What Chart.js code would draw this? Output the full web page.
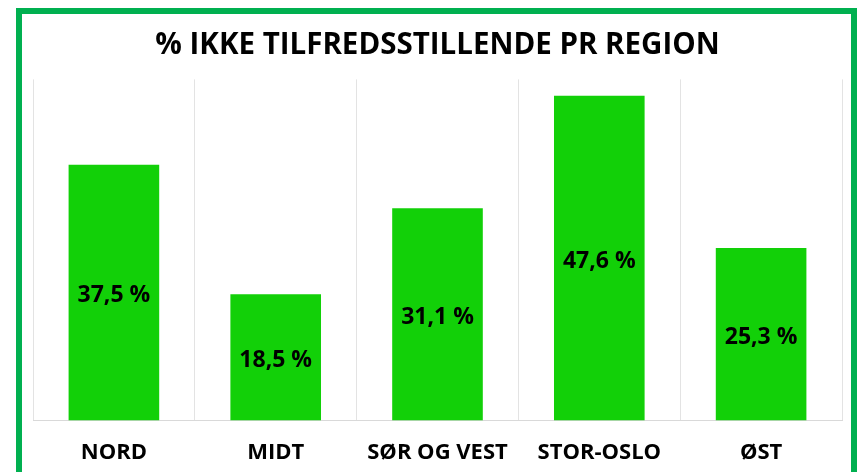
<!DOCTYPE html>
<html>
<head>
<meta charset="utf-8">
<script src="https://cdn.jsdelivr.net/npm/chart.js@4/dist/chart.umd.min.js"></script>
<style>
  html, body { margin: 0; padding: 0; background: #fff; overflow: hidden; }
  #frame {
    position: absolute; left: 16px; top: 8px;
    width: 829px; height: 476px;
    border: 6px solid #00B050;
  }
  #regionChart { display: block; }
</style>
</head>
<body>
<div id="frame"><canvas id="regionChart" width="829" height="476"></canvas></div>
<script>
var regions = ["NORD", "MIDT", "SØR OG VEST", "STOR-OSLO", "ØST"];
var pctNotOk = [37.5, 18.5, 31.1, 47.6, 25.3];
var chartTitle = "% IKKE TILFREDSSTILLENDE PR REGION";

// writes the value in the middle of each bar, norwegian style "37,5 %"
var barLabels = {
    id: "barLabels",
    afterDatasetsDraw: function (chart) {
        var ctx = chart.ctx;
        var meta = chart.getDatasetMeta(0);
        ctx.save();
        ctx.font = "bold 23px 'Open Sans'";
        ctx.fillStyle = "#000";
        ctx.textAlign = "center";
        ctx.textBaseline = "middle";
        meta.data.forEach(function (bar, i) {
            var txt = pctNotOk[i].toFixed(1).replace(".", ",") + " %";
            ctx.fillText(txt, bar.x, (bar.y + bar.base) / 2 + 3);
        });
        ctx.restore();
    }
};

var ctx = document.getElementById("regionChart").getContext("2d");
var regionChart = new Chart(ctx, {
    type: "bar",
    data: {
        labels: regions,
        datasets: [{
            data: pctNotOk,
            backgroundColor: "#12D008",
            categoryPercentage: 1,
            barPercentage: 0.56
        }]
    },
    options: {
        responsive: false,
        animation: false,
        layout: { padding: { left: 11, right: 9, top: 0, bottom: 5 } },
        plugins: {
            legend: { display: false },
            tooltip: { enabled: false },
            title: {
                display: true,
                text: chartTitle,
                color: "#000",
                font: { family: "'Open Sans'", size: 29.5, weight: "bold" },
                padding: { top: 14, bottom: 16 }
            }
        },
        scales: {
            x: {
                grid: { color: "#E3E3E3", drawTicks: false, offset: true },
                border: { color: "#D9D9D9" },
                ticks: {
                    color: "#000",
                    padding: 19,
                    font: { family: "'Open Sans'", size: 22, weight: "bold" }
                }
            },
            y: {
                display: false,
                min: 0,
                max: 50
            }
        }
    },
    plugins: [barLabels]
});
</script>
</body>
</html>
